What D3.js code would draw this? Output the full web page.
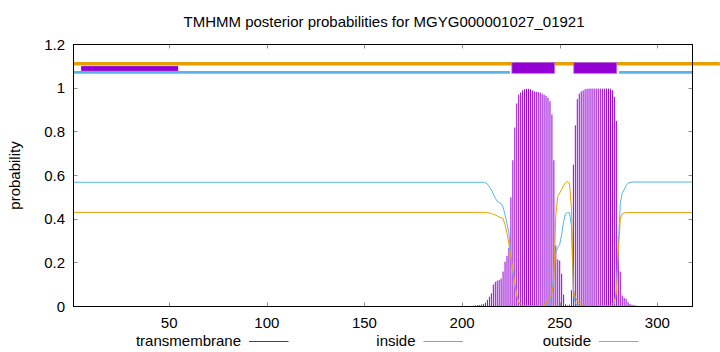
<!DOCTYPE html>
<html><head><meta charset="utf-8">
<script src="https://cdn.jsdelivr.net/npm/d3@7/dist/d3.min.js"></script>
<style>
body{margin:0;background:#fff}
text{font-family:"Liberation Sans",Arial,sans-serif;font-size:15px;fill:#000}
</style>
</head><body>
<svg id="c" width="720" height="352"></svg>
<script>
// ---------- data ----------
const title = "TMHMM posterior probabilities for MGYG000001027_01921";
const seqLength = 318;
const xTicks = [50, 100, 150, 200, 250, 300];
const yTicks = [0, 0.2, 0.4, 0.6, 0.8, 1.0, 1.2];
const legendLabels = ["transmembrane", "inside", "outside"];

// per-residue posterior probabilities for residues 205..290
const profileStart = 205;
const tmProb = [
  0.003,0.004,0.005,0.006,0.007,0.009,0.012,0.018,0.03,0.045,0.06,0.10,
  0.113,0.118,0.122,0.128,0.16,0.205,0.232,0.268,
  0.50,0.67,0.82,0.93,0.97,0.98,0.99,0.995,0.997,0.997,0.995,0.99,0.985,0.983,0.982,0.98,0.975,0.97,0.965,0.955,0.94,0.88,0.67,
  0.28,0.215,0.21,0.15,0.055,0.01,0.005,0.008,0.075,
  0.65,0.83,0.95,0.975,0.985,0.99,0.995,0.997,
  0.998,0.998,0.998,0.998,0.998,0.998,0.998,0.998,0.998,0.998,0.998,0.997,
  0.99,0.96,0.85,0.32,0.16,0.05,0.04,0.035,0.02,0.012,0.008,0.006,0.004,0.003
];
const insideProb = [
  0.569,0.569,0.569,0.569,0.569,0.569,0.568,0.566,0.56,0.548,0.534,0.515,0.496,0.482,0.476,0.472,
  0.455,0.42,0.38,0.335,0.228,0.153,0.095,0.05,0.022,0.01,0.004,
  0.002,0.002,0.002,0.002,0.002,0.002,0.002,0.002,0.002,0.002,
  0.003,0.004,0.006,0.02,0.07,0.15,0.25,0.27,0.285,0.33,0.39,0.425,0.43,0.43,0.37,0.06,0.015,0.005,0.003,0.002,
  0.002,0.002,0.002,0.002,0.002,0.002,0.002,0.002,0.002,0.002,0.002,0.002,0.002,0.002,0.002,
  0.004,0.01,0.08,0.28,0.47,0.52,0.535,0.555,0.565,0.569,0.57,0.57,0.57,0.57
];
const outsideProb = [
  0.431,0.431,0.431,0.431,0.431,0.431,0.431,0.43,0.43,0.428,0.426,0.422,0.419,0.415,0.41,0.407,
  0.402,0.375,0.335,0.285,0.225,0.17,0.107,0.05,0.02,0.01,0.005,
  0.004,0.004,0.004,0.004,0.004,0.004,0.004,0.004,0.004,0.004,
  0.008,0.015,0.025,0.04,0.06,0.12,0.42,0.505,0.52,0.535,0.555,0.567,0.572,0.566,0.45,0.08,0.04,0.025,0.015,0.008,
  0.004,0.004,0.004,0.004,0.004,0.004,0.004,0.004,0.004,0.004,0.004,0.004,0.004,0.004,0.004,
  0.01,0.025,0.06,0.25,0.40,0.425,0.428,0.43,0.43,0.43,0.43,0.43,0.43,0.43
];
// flat levels outside the profiled window
const insideLevelStart = 0.569, outsideLevelStart = 0.431;
const insideLevelEnd = 0.570, outsideLevelEnd = 0.430;

// topology bars at the top (residue ranges)
const tmSegments = [[225.5, 247.4], [257.2, 279.2]];
const extraSegments = [[4.9, 54.6]];
const insideSegments = [[1, 224.5], [280.4, 318]];
const outsideSegments = [[1, 332]];
const levelOutside = 1.112, levelInside = 1.072;
const tmBoxRange = [1.068, 1.118], extraBoxRange = [1.079, 1.101];

// ---------- chart ----------
const colTM = "#9400d3", colIn = "#56b4e9", colOut = "#e69f00";
const svg = d3.select("#c");
const L = 73.5, R = 692.5, T = 44.5, B = 306.5;
const x = d3.scaleLinear().domain([1, seqLength]).range([L, R]);
const y = d3.scaleLinear().domain([0, 1.2]).range([B, T]);

svg.append("defs").append("clipPath").attr("id","pc")
  .append("rect").attr("x", L).attr("y", T).attr("width", R - L).attr("height", B - T);

// impulses
const tmData = tmProb.map((p, k) => ({i: profileStart + k, p}));
svg.append("g").attr("clip-path","url(#pc)").selectAll("line").data(tmData).join("line")
  .attr("x1", d => x(d.i)).attr("x2", d => x(d.i))
  .attr("y1", y(0)).attr("y2", d => y(d.p))
  .attr("stroke", colTM).attr("stroke-width", 1);

function series(vals, a, b) {
  const pts = [[1, a]];
  vals.forEach((v, k) => pts.push([profileStart + k, v]));
  pts.push([seqLength, b]);
  return pts;
}
const line = d3.line().x(d => x(d[0])).y(d => y(d[1]));
const gl = svg.append("g").attr("clip-path","url(#pc)");
gl.append("path").attr("d", line(series(insideProb, insideLevelStart, insideLevelEnd)))
  .attr("fill","none").attr("stroke", colIn).attr("stroke-width", 1);
gl.append("path").attr("d", line(series(outsideProb, outsideLevelStart, outsideLevelEnd)))
  .attr("fill","none").attr("stroke", colOut).attr("stroke-width", 1);

// top topology bars
svg.append("g").selectAll("line").data(outsideSegments).join("line")
  .attr("x1", d => x(d[0])).attr("x2", d => x(d[1]))
  .attr("y1", y(levelOutside)).attr("y2", y(levelOutside))
  .attr("stroke", colOut).attr("stroke-width", 3.6);
svg.append("g").selectAll("line").data(insideSegments).join("line")
  .attr("x1", d => x(d[0])).attr("x2", d => x(d[1]))
  .attr("y1", y(levelInside)).attr("y2", y(levelInside))
  .attr("stroke", colIn).attr("stroke-width", 2.8);
svg.append("g").selectAll("rect").data(tmSegments).join("rect")
  .attr("x", d => x(d[0])).attr("width", d => x(d[1]) - x(d[0]))
  .attr("y", y(tmBoxRange[1])).attr("height", y(tmBoxRange[0]) - y(tmBoxRange[1]))
  .attr("fill", colTM).attr("stroke", "#b870e8").attr("stroke-width", 0.8);
svg.append("g").selectAll("rect").data(extraSegments).join("rect")
  .attr("x", d => x(d[0])).attr("width", d => x(d[1]) - x(d[0]))
  .attr("y", y(extraBoxRange[1])).attr("height", y(extraBoxRange[0]) - y(extraBoxRange[1]))
  .attr("fill", colTM);

// ticks (inward, mirrored)
const tk = svg.append("g").attr("stroke", "#909090").attr("stroke-width", 1);
xTicks.forEach(t => {
  const xx = Math.round(x(t)) + 0.5;
  tk.append("line").attr("x1", xx).attr("x2", xx).attr("y1", B).attr("y2", B - 4);
  tk.append("line").attr("x1", xx).attr("x2", xx).attr("y1", T).attr("y2", T + 4);
});
yTicks.forEach(t => {
  const yy = Math.round(y(t) - 0.5) + 0.5;
  tk.append("line").attr("x1", L).attr("x2", L + 4).attr("y1", yy).attr("y2", yy);
  tk.append("line").attr("x1", R).attr("x2", R - 4).attr("y1", yy).attr("y2", yy);
});

// border
svg.append("rect").attr("x", L).attr("y", T).attr("width", R - L).attr("height", B - T)
  .attr("fill","none").attr("stroke","#000").attr("stroke-width",1);

// tick labels
svg.append("g").selectAll("text").data(xTicks).join("text")
  .attr("x", d => x(d)).attr("y", 328).attr("text-anchor","middle").text(d => d);
svg.append("g").selectAll("text").data(yTicks).join("text")
  .attr("x", 65).attr("y", d => y(d) + 5.3).attr("text-anchor","end")
  .text(d => d3.format("~g")(d));

// title & axis label
svg.append("text").attr("x", 384).attr("y", 27).attr("text-anchor","middle").text(title);
svg.append("text").attr("transform","translate(20,175.5) rotate(-90)")
  .attr("text-anchor","middle").text("probability");

// legend
const legendTextEnd = [241, 415.5, 591];
const legendCols = [colTM, colIn, colOut];
legendLabels.forEach((lab, k) => {
  svg.append("text").attr("x", legendTextEnd[k]).attr("y", 346).attr("text-anchor","end").text(lab);
  svg.append("line").attr("x1", legendTextEnd[k] + 8).attr("x2", legendTextEnd[k] + 47.5)
    .attr("y1", 341.5).attr("y2", 341.5).attr("stroke", legendCols[k]).attr("stroke-width", 1);
});
</script>
</body></html>
